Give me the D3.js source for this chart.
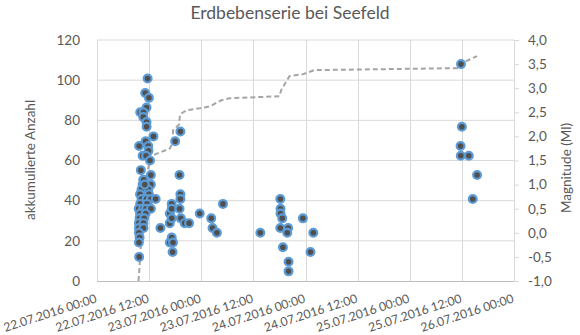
<!DOCTYPE html>
<html>
<head>
<meta charset="utf-8">
<script src="https://cdn.jsdelivr.net/npm/d3@7"></script>
<style>
  html, body { margin: 0; padding: 0; background: #fff; }
  svg { display: block; font-family: Lato, "Open Sans", sans-serif; }
</style>
</head>
<body>
<svg id="chart" width="580" height="335"></svg>
<script>
// Einzelbeben: Zeitpunkt (UTC) und Magnitude (Ml)
const quakeTimes = [
  "2016-07-22 11:39","2016-07-22 11:06","2016-07-22 11:57","2016-07-22 11:24","2016-07-22 09:57",
  "2016-07-22 10:42","2016-07-22 10:39","2016-07-22 11:24","2016-07-22 11:25","2016-07-22 13:00",
  "2016-07-22 11:12","2016-07-22 09:42","2016-07-22 11:48","2016-07-22 11:51","2016-07-22 10:30",
  "2016-07-22 11:18","2016-07-22 12:12","2016-07-22 10:06","2016-07-22 12:24","2016-07-22 10:39",
  "2016-07-22 10:30","2016-07-22 12:24","2016-07-22 10:15","2016-07-22 11:48","2016-07-22 09:54",
  "2016-07-22 11:57","2016-07-22 10:15","2016-07-22 11:24","2016-07-22 12:24","2016-07-22 13:30",
  "2016-07-22 09:57","2016-07-22 11:30","2016-07-22 09:36","2016-07-22 10:36","2016-07-22 11:18",
  "2016-07-22 12:24","2016-07-22 09:54","2016-07-22 11:12","2016-07-22 09:48","2016-07-22 10:51",
  "2016-07-22 09:39","2016-07-22 10:42","2016-07-22 09:39","2016-07-22 10:42","2016-07-22 09:39",
  "2016-07-22 09:48","2016-07-22 09:39","2016-07-22 09:42","2016-07-22 10:45","2016-07-22 11:00",
  "2016-07-22 14:36","2016-07-22 16:45","2016-07-22 16:45","2016-07-22 16:45","2016-07-22 17:12",
  "2016-07-22 17:12","2016-07-22 17:12","2016-07-22 17:12","2016-07-22 17:24","2016-07-22 17:30",
  "2016-07-22 18:00","2016-07-22 19:00","2016-07-22 19:00","2016-07-22 19:12","2016-07-22 19:12",
  "2016-07-22 19:12","2016-07-22 19:18","2016-07-22 20:12","2016-07-22 21:12","2016-07-22 23:39",
  "2016-07-23 02:18","2016-07-23 02:36","2016-07-23 03:36","2016-07-23 05:00",
  "2016-07-23 13:36","2016-07-23 18:12","2016-07-23 18:15","2016-07-23 18:15","2016-07-23 18:39",
  "2016-07-23 18:12","2016-07-23 20:00","2016-07-23 19:48","2016-07-23 18:48","2016-07-23 20:06",
  "2016-07-23 20:06","2016-07-23 23:24","2016-07-24 01:48","2016-07-24 01:09",
  "2016-07-25 11:48","2016-07-25 12:00","2016-07-25 11:42","2016-07-25 11:45","2016-07-25 13:36",
  "2016-07-25 15:30","2016-07-25 14:30"
];
const quakeMags = [
  3.2, 2.9, 2.8, 2.6, 2.5,
  2.5, 2.4, 2.3, 2.2, 2.0,
  1.9, 1.8, 1.8, 1.7, 1.6,
  1.6, 1.5, 1.3, 1.2, 1.1,
  1.0, 1.0, 0.9, 0.9, 0.8,
  0.8, 0.7, 0.7, 0.7, 0.7,
  0.6, 0.6, 0.5, 0.5, 0.5,
  0.5, 0.4, 0.4, 0.3, 0.3,
  0.2, 0.2, 0.1, 0.1, 0.0,
  -0.1, -0.2, -0.5, 1.1, 1.0,
  0.1, 0.4, 0.2, -0.2, 0.6,
  0.5, 0.3, -0.1, -0.4, -0.2,
  1.9, 1.2, 0.5, 2.1, 0.8,
  0.7, 0.3, 0.2, 0.2, 0.4,
  0.3, 0.1, 0.0, 0.6,
  0.0, 0.7, 0.5, 0.4, 0.3,
  0.1, 0.1, 0.0, -0.3, -0.6,
  -0.8, 0.3, 0.0, -0.4,
  3.5, 2.2, 1.8, 1.6, 1.6,
  1.2, 0.7
];

// Akkumulierte Anzahl der Beben über die Zeit
const countTimes = [
  "2016-07-22 09:33","2016-07-22 09:42","2016-07-22 10:00","2016-07-22 10:30","2016-07-22 11:00",
  "2016-07-22 11:30","2016-07-22 11:48","2016-07-22 12:12","2016-07-22 13:18","2016-07-22 16:48",
  "2016-07-22 17:24","2016-07-22 17:30","2016-07-22 18:54","2016-07-22 19:06","2016-07-22 20:36",
  "2016-07-22 23:39","2016-07-23 02:00","2016-07-23 04:36","2016-07-23 06:30","2016-07-23 18:00",
  "2016-07-23 18:24","2016-07-23 20:18","2016-07-23 23:30","2016-07-24 02:00","2016-07-25 11:24",
  "2016-07-25 12:30","2016-07-25 15:30"
];
const countValues = [
  0, 4, 15, 28, 40,
  51, 56, 60, 63, 66,
  69, 75, 78, 83, 85,
  86, 87, 90, 91, 92,
  95, 102, 103, 105, 106,
  109, 112
];

// Achsenbeschriftungen
const countTicks = [0, 20, 40, 60, 80, 100, 120];
const magTicks = [-1.0, -0.5, 0.0, 0.5, 1.0, 1.5, 2.0, 2.5, 3.0, 3.5, 4.0];
const timeTicks = [
  "2016-07-22 00:00","2016-07-22 12:00","2016-07-23 00:00","2016-07-23 12:00","2016-07-24 00:00",
  "2016-07-24 12:00","2016-07-25 00:00","2016-07-25 12:00","2016-07-26 00:00"
];

const chartTitle = "Erdbebenserie bei Seefeld";
const leftTitle = "akkumulierte Anzahl";
const rightTitle = "Magnitude (Ml)";

const parse = d3.utcParse("%Y-%m-%d %H:%M");
const fmtTime = d3.utcFormat("%d.%m.%Y %H:%M");
const fmtMag = v => d3.format(".1f")(v).replace(".", ",").replace("−", "-");

const plot = { left: 97, right: 514, top: 40, bottom: 281 };
const svg = d3.select("#chart");
const textColor = "#595959";
const gridColor = "#d9d9d9";
const font = "Lato, sans-serif";

const x = d3.scaleUtc()
  .domain([parse(timeTicks[0]), parse(timeTicks[timeTicks.length - 1])])
  .range([plot.left, plot.right]);
const yCount = d3.scaleLinear().domain([0, 120]).range([plot.bottom, plot.top]);
const yMag = d3.scaleLinear().domain([-1, 4]).range([plot.bottom, plot.top]);

// Gitterlinien
const grid = svg.append("g");
grid.selectAll("line.h").data(countTicks.slice(1)).join("line")
  .attr("x1", plot.left).attr("x2", plot.right)
  .attr("y1", d => yCount(d)).attr("y2", d => yCount(d))
  .attr("stroke", gridColor).attr("stroke-width", 1);
grid.selectAll("line.v").data(timeTicks.slice(0, -1)).join("line")
  .attr("x1", d => Math.round(x(parse(d))) + 0.5).attr("x2", d => Math.round(x(parse(d))) + 0.5)
  .attr("y1", plot.top).attr("y2", plot.bottom)
  .attr("stroke", gridColor).attr("stroke-width", 1);

// Linke Achse (Anzahl)
const leftAxis = svg.append("g")
  .attr("transform", `translate(${plot.left},0)`)
  .call(d3.axisLeft(yCount).tickValues(countTicks).tickSize(0).tickPadding(17));
leftAxis.select(".domain").remove();
leftAxis.selectAll("text").attr("fill", textColor).style("font-size", "13.5px")
  .style("font-family", font);

// Rechte Achse (Magnitude)
const rightAxis = svg.append("g")
  .attr("transform", `translate(${plot.right},0)`)
  .call(d3.axisRight(yMag).tickValues(magTicks).tickSize(5).tickPadding(9).tickFormat(fmtMag));
rightAxis.select(".domain").attr("stroke", gridColor).attr("d", `M0.5,${plot.top}V${plot.bottom}`);
rightAxis.selectAll(".tick line").attr("stroke", gridColor);
rightAxis.selectAll("text").attr("fill", textColor).style("font-size", "13.5px")
  .style("font-family", font);

// Untere Achse (Zeit), schräg gestellte Beschriftung
const bottomAxis = svg.append("g")
  .attr("transform", `translate(0,${plot.bottom})`)
  .call(d3.axisBottom(x).tickValues(timeTicks.map(parse)).tickSize(0).tickFormat(fmtTime));
bottomAxis.select(".domain").attr("stroke", "#bfbfbf").attr("d", `M${plot.left},0.5H${plot.right}`);
const xLabels = bottomAxis.selectAll("text")
  .attr("fill", textColor).style("font-size", "12.5px").style("font-family", font)
  .attr("text-anchor", "end").attr("dy", null).attr("y", 0);
// Schriftgröße so wählen, dass eine Beschriftung etwa 97 px lang ist
const baseLen = xLabels.node().getComputedTextLength();
const xFont = 12.5 * 97 / baseLen;
xLabels.style("font-size", xFont.toFixed(2) + "px")
  .attr("transform", "translate(0,21) rotate(-18)");

// Akkumulierte Anzahl als gestrichelte Linie
const countData = countTimes.map((t, i) => ({ t: parse(t), v: countValues[i] }));
svg.append("path")
  .datum(countData)
  .attr("fill", "none")
  .attr("stroke", "#a5a5a5")
  .attr("stroke-width", 2)
  .attr("stroke-dasharray", "5,3")
  .attr("d", d3.line().x(d => x(d.t)).y(d => yCount(d.v)));

// Beben als Punkte
const quakeData = quakeTimes.map((t, i) => ({ t: parse(t), m: quakeMags[i] }));
const defs = svg.append("defs");
defs.append("filter").attr("id", "soft")
  .append("feGaussianBlur").attr("stdDeviation", 0.45);
svg.append("g").attr("filter", "url(#soft)")
  .selectAll("circle").data(quakeData).join("circle")
  .attr("cx", d => x(d.t))
  .attr("cy", d => yMag(d.m))
  .attr("r", 3.9)
  .attr("fill", "#505050")
  .attr("stroke", "#5b9bd5")
  .attr("stroke-width", 2.2);

// Titel
svg.append("text")
  .attr("x", 290).attr("y", 19)
  .attr("text-anchor", "middle")
  .attr("fill", textColor)
  .style("font-size", "17.5px")
  .text(chartTitle);

svg.append("text")
  .attr("transform", `translate(35,160) rotate(-90)`)
  .attr("text-anchor", "middle")
  .attr("fill", textColor)
  .style("font-size", "13.5px")
  .text(leftTitle);

svg.append("text")
  .attr("transform", `translate(571,168) rotate(-90)`)
  .attr("text-anchor", "middle")
  .attr("fill", textColor)
  .style("font-size", "13.5px")
  .text(rightTitle);
</script>
</body>
</html>
